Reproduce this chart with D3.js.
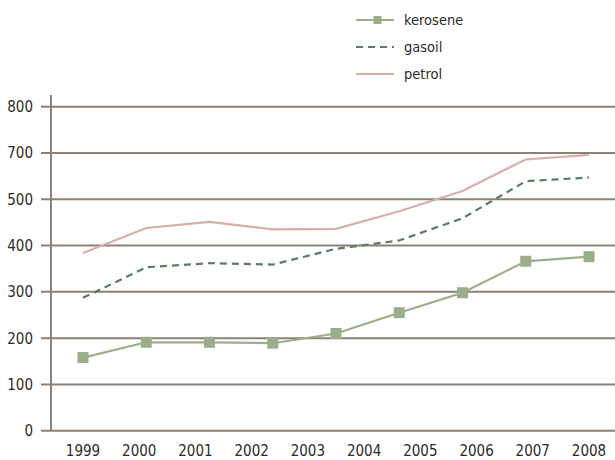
<!doctype html>
<html>
<head>
<meta charset="utf-8">
<script src="https://cdnjs.cloudflare.com/ajax/libs/d3/7.8.5/d3.min.js"></script>
<style>
body { margin: 0; background: #fff; }
text {
  font-family: "Liberation Sans Narrow", "DejaVu Sans Condensed", sans-serif;
  fill: #2e2a27;
}
.grid line { stroke: #8a8179; stroke-width: 2px; }
.axis path, .axis line { stroke: #8a8179; }
</style>
</head>
<body>
<svg width="615" height="460"></svg>
<script>
// x labels (10) and the 9 plotted points per series
var years = ["1999", "2000", "2001", "2002", "2003", "2004", "2005", "2006", "2007", "2008"]
var yTicks = [0, 100, 200, 300, 400, 500, 600, 700]
var yTickLabels = ["0", "100", "200", "300", "400", "500", "700", "800"]

var kerosene = [158, 191, 191, 189, 210, 255, 298, 366, 376]
var gasoil = [287, 353, 362, 359, 393, 411, 459, 539, 547]
var petrol = [384, 438, 451, 435, 436, 474, 518, 586, 596]

var series = [
  {name: "kerosene", values: kerosene, color: "#9cad8c", dash: null, marker: true},
  {name: "gasoil", values: gasoil, color: "#5b7b63", dash: "7,5", marker: false},
  {name: "petrol", values: petrol, color: "#d8aea9", dash: null, marker: false}
]

var svg = d3.select("svg")

var y = d3.scaleLinear().domain([0, 700]).range([430.7, 106.7])
var xLab = d3.scalePoint().domain(years).range([83, 589])
var xPt = d3.scalePoint().domain(d3.range(kerosene.length)).range([83, 589])

// gridlines
svg.append("g").attr("class", "grid")
  .selectAll("line").data(yTicks).enter().append("line")
  .attr("x1", 41).attr("x2", 615)
  .attr("y1", d => y(d)).attr("y2", d => y(d))

// y axis line
svg.append("line")
  .attr("x1", 51).attr("x2", 51).attr("y1", 95).attr("y2", 431)
  .style("stroke", "#8a8179").style("stroke-width", 2)

svg.append("g").selectAll("text").data(yTicks).enter().append("text")
  .attr("x", 33).attr("y", d => y(d) + 5.5)
  .style("text-anchor", "end").style("font-size", "15px")
  .text((d, i) => yTickLabels[i])

svg.append("g").selectAll("text").data(years).enter().append("text")
  .attr("x", d => xLab(d)).attr("y", 456)
  .style("text-anchor", "middle").style("font-size", "15px")
  .text(d => d)

var line = d3.line().x((d, i) => xPt(i)).y(d => y(d))

// draw back to front: petrol, gasoil, kerosene
series.slice().reverse().forEach(function(s) {
  svg.append("path").datum(s.values)
    .attr("d", line)
    .attr("fill", "none")
    .attr("stroke", s.color)
    .attr("stroke-width", 2.2)
    .attr("stroke-dasharray", s.dash)
  if (s.marker) {
    svg.append("g").selectAll("rect").data(s.values).enter().append("rect")
      .attr("x", (d, i) => xPt(i) - 5.5).attr("y", d => y(d) - 5.5)
      .attr("width", 11).attr("height", 11)
      .attr("fill", s.color)
  }
})

// legend
var leg = svg.append("g").selectAll("g").data(series).enter().append("g")
  .attr("transform", (d, i) => "translate(356," + (20 + i * 27) + ")")
leg.append("line")
  .attr("x1", 0).attr("x2", 38)
  .attr("stroke", d => d.color).attr("stroke-width", 2.2)
  .attr("stroke-dasharray", d => d.dash)
leg.filter(d => d.marker).append("rect")
  .attr("x", 17.5).attr("y", -4).attr("width", 8).attr("height", 8)
  .attr("fill", d => d.color)
leg.append("text")
  .attr("x", 48).attr("y", 5)
  .style("font-size", "14.5px")
  .text(d => d.name)
</script>
</body>
</html>
